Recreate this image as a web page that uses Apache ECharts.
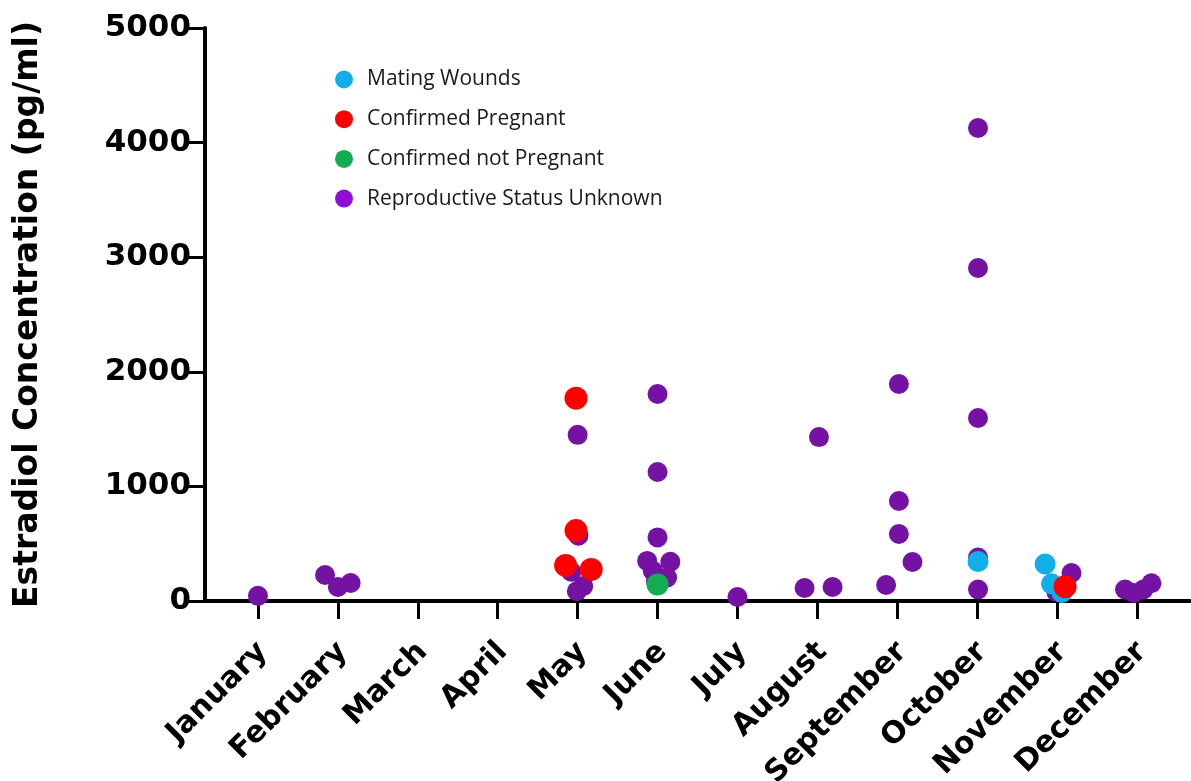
<!DOCTYPE html>
<html>
<head>
<meta charset="utf-8">
<script src="https://cdn.jsdelivr.net/npm/echarts@6/dist/echarts.min.js"></script>
<style>
  html, body { margin: 0; padding: 0; background: #ffffff; }
  #chart { width: 1191px; height: 781px; }
</style>
</head>
<body>
<div id="chart"></div>
<script>
// Month categories on the x axis
const months = ['January', 'February', 'March', 'April', 'May', 'June',
  'July', 'August', 'September', 'October', 'November', 'December'];

// Y axis ticks
const yTicks = [0, 1000, 2000, 3000, 4000, 5000];

// Each point: [month index + horizontal spread, estradiol pg/ml]
const unknownStatus = [
  [0.00, 45],
  [-0.16, 227], [0.00, 122], [0.16, 157],
  [0.00, 1450], [0.01, 570], [-0.08, 255], [0.07, 130], [-0.01, 85],
  [0.00, 1806], [0.00, 1126], [0.00, 555], [-0.13, 350], [0.16, 342],
  [-0.06, 265], [0.12, 205], [-0.02, 175],
  [0.00, 35],
  [-0.16, 113], [0.02, 1430], [0.19, 122],
  [0.02, 1894], [0.02, 873], [0.02, 585], [0.19, 340], [-0.14, 140],
  [0.01, 4127], [0.01, 2906], [0.01, 1597], [0.01, 380], [0.01, 100],
  [0.18, 244], [-0.01, 80],
  [-0.15, 100], [-0.04, 70], [0.08, 100], [0.18, 155]
];
const unknownMonth = [0, 1, 1, 1, 4, 4, 4, 4, 4, 5, 5, 5, 5, 5, 5, 5, 5,
  6, 7, 7, 7, 8, 8, 8, 8, 8, 9, 9, 9, 9, 9, 10, 10, 11, 11, 11, 11];

const matingWounds = [[-0.15, 323], [-0.07, 150], [0.06, 75], [0.01, 345]];
const matingMonth = [10, 10, 10, 9];

const pregnant = [[-0.02, 1770], [-0.02, 615], [-0.15, 310], [0.17, 275], [0.10, 125]];
const pregnantMonth = [4, 4, 4, 4, 10];

const notPregnant = [[0.00, 145]];
const notPregnantMonth = [5];

function place(points, monthIdx) {
  return points.map((p, i) => [monthIdx[i] + p[0], p[1]]);
}

const tickFont = '"DejaVu Sans", sans-serif';

const chart = echarts.init(document.getElementById('chart'), null, { renderer: 'canvas' });

chart.setOption({
  backgroundColor: '#ffffff',
  animation: false,
  legend: {
    orient: 'vertical',
    left: 330,
    top: 64,
    itemWidth: 18,
    itemHeight: 18,
    itemGap: 18.7,
    icon: 'circle',
    textStyle: { fontFamily: '"Open Sans", sans-serif', fontSize: 21, color: '#1a1a1a', padding: [0, 0, 0, 9] },
    data: [
      { name: 'Mating Wounds', itemStyle: { color: '#12aee8' } },
      { name: 'Confirmed Pregnant', itemStyle: { color: '#ff0000' } },
      { name: 'Confirmed not Pregnant', itemStyle: { color: '#12ad50' } },
      { name: 'Reproductive Status Unknown', itemStyle: { color: '#8e0ed3' } }
    ]
  },
  grid: [
    { left: 205, right: 1, top: 28, bottom: 180, outerBoundsMode: 'none' },
    { left: 218, right: 14, top: 28, bottom: 180, outerBoundsMode: 'none' }
  ],
  xAxis: [
    {
      // full-width baseline
      type: 'value', gridIndex: 0, min: 0, max: 1,
      axisLine: { show: true, onZero: false, lineStyle: { color: '#000', width: 4 } },
      axisTick: { show: false }, axisLabel: { show: false }, splitLine: { show: false }
    },
    {
      type: 'category', gridIndex: 1, data: months, position: 'bottom',
      boundaryGap: true,
      axisLine: { show: false },
      axisTick: { show: true, alignWithLabel: true, length: 18, lineStyle: { color: '#000', width: 3 } },
      axisLabel: {
        rotate: 45, interval: 0, margin: 30, align: 'right', verticalAlign: 'top',
        padding: [0, 8, 0, 0],
        fontFamily: tickFont, fontWeight: 'bold', fontSize: 30, color: '#000'
      },
      splitLine: { show: false }
    },
    {
      type: 'value', gridIndex: 1, min: -0.5, max: 11.5, show: false, position: 'bottom'
    }
  ],
  yAxis: [
    {
      type: 'value', gridIndex: 0, min: yTicks[0], max: yTicks[yTicks.length - 1], interval: 1000,
      name: 'Estradiol Concentration (pg/ml)',
      nameLocation: 'middle', nameGap: 160, nameRotate: 90,
      nameTextStyle: { fontFamily: tickFont, fontWeight: 'bold', fontSize: 33, color: '#000' },
      axisLine: { show: true, lineStyle: { color: '#000', width: 4 } },
      axisTick: { show: true, length: 16, lineStyle: { color: '#000', width: 3 } },
      axisLabel: {
        margin: 14, fontFamily: tickFont, fontWeight: 'bold', fontSize: 31, color: '#000',
        formatter: (v) => String(v)
      },
      splitLine: { show: false }
    },
    { type: 'value', gridIndex: 1, min: 0, max: 5000, show: false }
  ],
  series: [
    {
      name: 'Reproductive Status Unknown', type: 'scatter', xAxisIndex: 2, yAxisIndex: 1,
      symbolSize: 20, z: 2, itemStyle: { color: '#7412a4', opacity: 1 },
      data: place(unknownStatus, unknownMonth)
    },
    {
      name: 'Mating Wounds', type: 'scatter', xAxisIndex: 2, yAxisIndex: 1,
      symbolSize: 21, z: 3, itemStyle: { color: '#12aee8', opacity: 1 },
      data: place(matingWounds, matingMonth)
    },
    {
      name: 'Confirmed not Pregnant', type: 'scatter', xAxisIndex: 2, yAxisIndex: 1,
      symbolSize: 22, z: 4, itemStyle: { color: '#12ad50', opacity: 1 },
      data: place(notPregnant, notPregnantMonth)
    },
    {
      name: 'Confirmed Pregnant', type: 'scatter', xAxisIndex: 2, yAxisIndex: 1,
      symbolSize: 23, z: 5, itemStyle: { color: '#ff0000', opacity: 1 },
      data: place(pregnant, pregnantMonth)
    }
  ]
});
</script>
</body>
</html>
